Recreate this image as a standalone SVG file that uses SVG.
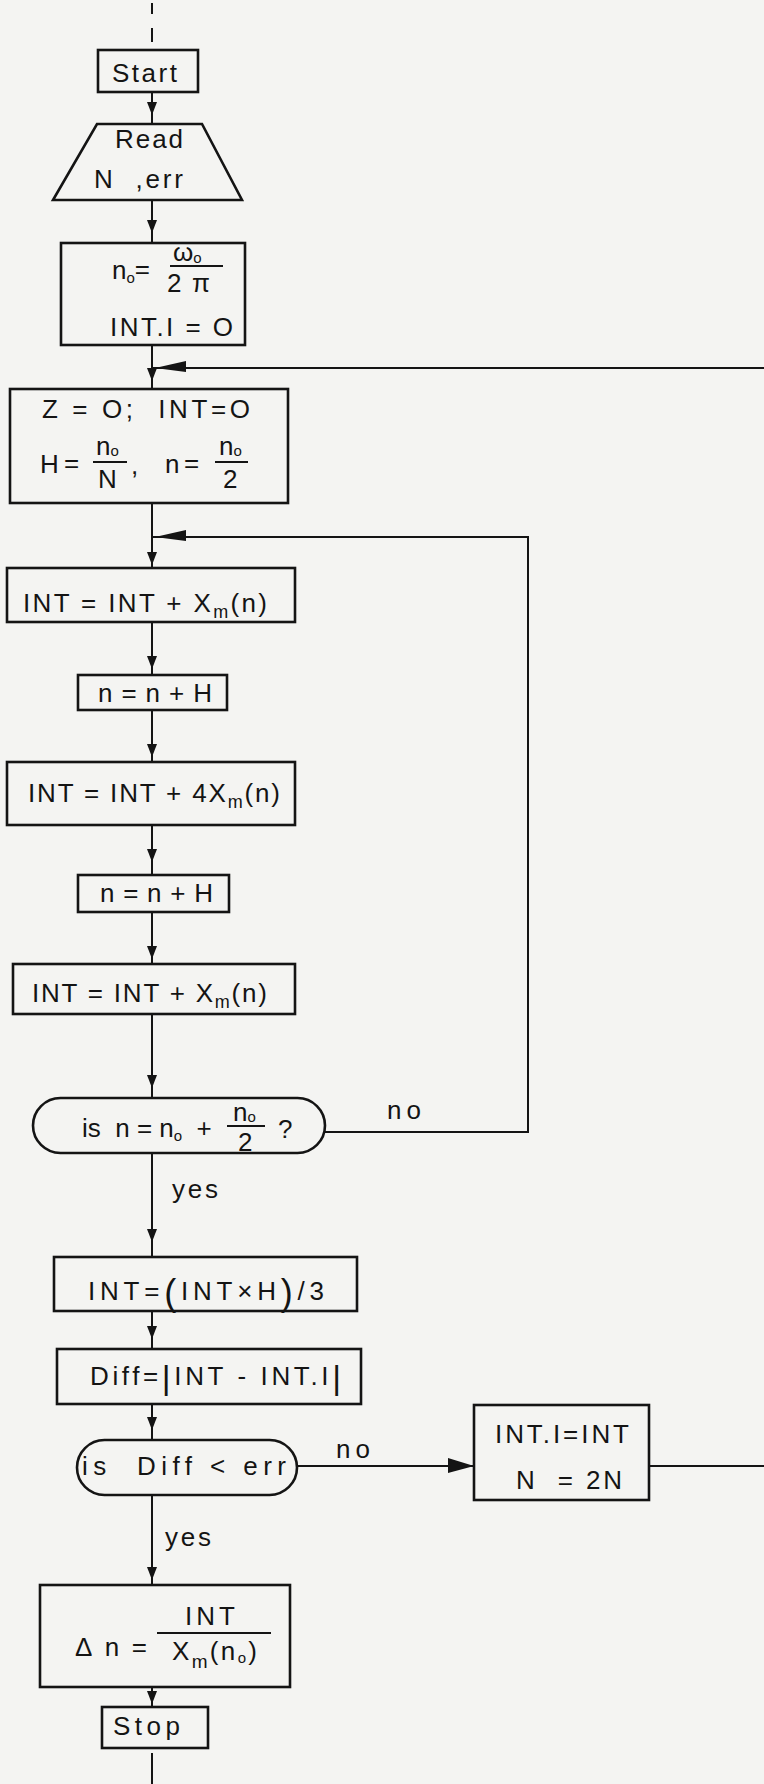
<svg xmlns="http://www.w3.org/2000/svg" xmlns:xlink="http://www.w3.org/1999/xlink" width="764" height="1784" viewBox="0 0 764 1784">
<style>
.b{fill:none;stroke:#141414;stroke-width:2.6}
.c{fill:none;stroke:#141414;stroke-width:2}
.t{font-family:"Liberation Sans",Arial,sans-serif;font-size:26px;fill:#141414}
.s{font-size:15px}
.fl{stroke:#141414;stroke-width:2}
.ah{fill:#141414}
</style>
<defs>
<path id="ad" d="M0,0 L-5,-13 L5,-13 Z"/>
<path id="al" d="M0,0 L31,-7 L31,4 Z"/>
<path id="ar" d="M0,0 L-26,-8 L-26,7 Z"/>
</defs>
<rect width="764" height="1784" fill="#f4f4f2"/>

<g id="connectors">
<line class="c" x1="152" y1="3" x2="152" y2="14"/>
<line class="c" x1="152" y1="28" x2="152" y2="42"/>
<line class="c" x1="152" y1="92" x2="152" y2="124"/>
<line class="c" x1="152" y1="200" x2="152" y2="243"/>
<line class="c" x1="152" y1="345" x2="152" y2="389"/>
<line class="c" x1="152" y1="503" x2="152" y2="568"/>
<line class="c" x1="152" y1="622" x2="152" y2="675"/>
<line class="c" x1="152" y1="710" x2="152" y2="762"/>
<line class="c" x1="152" y1="825" x2="152" y2="875"/>
<line class="c" x1="152" y1="912" x2="152" y2="964"/>
<line class="c" x1="152" y1="1014" x2="152" y2="1098"/>
<line class="c" x1="152" y1="1153" x2="152" y2="1257"/>
<line class="c" x1="152" y1="1311" x2="152" y2="1349"/>
<line class="c" x1="152" y1="1404" x2="152" y2="1440"/>
<line class="c" x1="152" y1="1495" x2="152" y2="1585"/>
<line class="c" x1="152" y1="1687" x2="152" y2="1707"/>
<line class="c" x1="152" y1="1753" x2="152" y2="1784"/>
<polyline class="c" points="764,368 152,368"/>
<polyline class="c" points="325,1132 528,1132 528,537 152,537"/>
<line class="c" x1="297" y1="1466" x2="474" y2="1466"/>
<line class="c" x1="649" y1="1466" x2="764" y2="1466"/>
<g class="ah">
<use xlink:href="#ad" transform="translate(152,115)"/>
<use xlink:href="#ad" transform="translate(152,233)"/>
<use xlink:href="#ad" transform="translate(152,381)"/>
<use xlink:href="#ad" transform="translate(152,565)"/>
<use xlink:href="#ad" transform="translate(152,669)"/>
<use xlink:href="#ad" transform="translate(152,757)"/>
<use xlink:href="#ad" transform="translate(152,862)"/>
<use xlink:href="#ad" transform="translate(152,959)"/>
<use xlink:href="#ad" transform="translate(152,1088)"/>
<use xlink:href="#ad" transform="translate(152,1242)"/>
<use xlink:href="#ad" transform="translate(152,1339)"/>
<use xlink:href="#ad" transform="translate(152,1430)"/>
<use xlink:href="#ad" transform="translate(152,1580)"/>
<use xlink:href="#ad" transform="translate(152,1704)"/>
<use xlink:href="#al" transform="translate(155,368)"/>
<use xlink:href="#al" transform="translate(155,537)"/>
<use xlink:href="#ar" transform="translate(474,1466)"/>
</g>
<text class="t" x="387" y="1119" textLength="34">no</text>
<text class="t" x="172" y="1198" textLength="46">yes</text>
<text class="t" x="336" y="1458" textLength="34">no</text>
<text class="t" x="165" y="1546" textLength="46">yes</text>
</g>

<g id="start">
<rect class="b" x="98" y="50" width="100" height="42"/>
<text class="t" x="112" y="82" font-size="27" textLength="65">Start</text>
</g>

<g id="read">
<polygon class="b" points="97,124 202,124 242,200 53,200"/>
<text class="t" x="115" y="148" textLength="68">Read</text>
<text class="t" x="94" y="188" textLength="89" xml:space="preserve">N  ,err</text>
</g>

<g id="init1">
<rect class="b" x="61" y="243" width="184" height="102"/>
<text class="t" x="112" y="279" font-size="24">n<tspan class="s" dy="4">o</tspan><tspan dy="-5">=</tspan></text>
<text class="t" x="173" y="261" font-size="24">ω<tspan class="s" dy="2">o</tspan></text>
<line class="fl" x1="170" y1="266" x2="223" y2="266"/>
<text class="t" x="167" y="292" textLength="43">2 π</text>
<text class="t" x="110" y="336" textLength="123">INT.I = O</text>
</g>

<g id="init2">
<rect class="b" x="10" y="389" width="278" height="114"/>
<text class="t" x="42" y="418" textLength="208" xml:space="preserve">Z = O;  INT=O</text>
<text class="t" x="40" y="473">H</text>
<text class="t" x="64" y="472">=</text>
<text class="t" x="96" y="455" font-size="23">n<tspan class="s" dy="1">o</tspan></text>
<line class="fl" x1="93" y1="462" x2="127" y2="462"/>
<text class="t" x="98" y="488">N</text>
<text class="t" x="131" y="474">,</text>
<text class="t" x="165" y="473">n</text>
<text class="t" x="184" y="472">=</text>
<text class="t" x="219" y="455" font-size="23">n<tspan class="s" dy="1">o</tspan></text>
<line class="fl" x1="215" y1="462" x2="248" y2="462"/>
<text class="t" x="223" y="488">2</text>
</g>

<g id="sum1">
<rect class="b" x="7" y="568" width="288" height="54"/>
<text class="t" x="23" y="612" textLength="244" xml:space="preserve">INT = INT + X<tspan font-size="18" dy="6">m</tspan><tspan dy="-6">(n)</tspan></text>
</g>

<g id="step1">
<rect class="b" x="78" y="675" width="149" height="35"/>
<text class="t" x="98" y="702" textLength="114">n = n + H</text>
</g>

<g id="sum2">
<rect class="b" x="7" y="762" width="288" height="63"/>
<text class="t" x="28" y="802" textLength="252" xml:space="preserve">INT = INT + 4X<tspan font-size="18" dy="6">m</tspan><tspan dy="-6">(n)</tspan></text>
</g>

<g id="step2">
<rect class="b" x="78" y="875" width="151" height="37"/>
<text class="t" x="100" y="902" textLength="113">n = n + H</text>
</g>

<g id="sum3">
<rect class="b" x="13" y="964" width="282" height="50"/>
<text class="t" x="32" y="1002" textLength="235" xml:space="preserve">INT = INT + X<tspan font-size="18" dy="6">m</tspan><tspan dy="-6">(n)</tspan></text>
</g>

<g id="test1">
<rect class="b" x="33" y="1098" width="292" height="55" rx="27.5"/>
<text class="t" x="82" y="1137" xml:space="preserve">is  n = n<tspan class="s" dy="4">o</tspan><tspan dy="-4">  + </tspan></text>
<text class="t" x="233" y="1121" font-size="23">n<tspan class="s" dy="1">o</tspan></text>
<line class="fl" x1="227" y1="1126" x2="265" y2="1126"/>
<text class="t" x="238" y="1151" font-size="23">2</text>
<text class="t" x="278" y="1138">?</text>
</g>

<g id="scale">
<rect class="b" x="54" y="1257" width="303" height="54"/>
<text class="t" x="88" y="1300" textLength="236">INT=<tspan font-size="36" dy="5">(</tspan><tspan dy="-5">INT×H</tspan><tspan font-size="36" dy="5">)</tspan><tspan dy="-5">/3</tspan></text>
</g>

<g id="diff">
<rect class="b" x="57" y="1349" width="304" height="55"/>
<text class="t" x="90" y="1385" textLength="251">Diff=<tspan font-size="34" dy="4">|</tspan><tspan dy="-4">INT - INT.I</tspan><tspan font-size="34" dy="4">|</tspan></text>
</g>

<g id="test2">
<rect class="b" x="77" y="1440" width="220" height="55" rx="27.5"/>
<text class="t" x="82" y="1475" font-size="27" textLength="204" xml:space="preserve">is  Diff &lt; err</text>
</g>

<g id="update">
<rect class="b" x="474" y="1405" width="175" height="95"/>
<text class="t" x="495" y="1443" textLength="134">INT.I=INT</text>
<text class="t" x="516" y="1489" textLength="106" xml:space="preserve">N  = 2N</text>
</g>

<g id="result">
<rect class="b" x="40" y="1585" width="250" height="102"/>
<text class="t" x="75" y="1656" font-size="27" textLength="72">Δn=</text>
<text class="t" x="185" y="1625" textLength="50">INT</text>
<line class="fl" x1="157" y1="1633" x2="271" y2="1633"/>
<text class="t" x="172" y="1660" textLength="85">X<tspan font-size="19" dy="8">m</tspan><tspan dy="-8">(n</tspan><tspan class="s" dy="3">o</tspan><tspan dy="-3">)</tspan></text>
</g>

<g id="stop">
<rect class="b" x="102" y="1707" width="106" height="41"/>
<text class="t" x="113" y="1735" font-size="27" textLength="67">Stop</text>
</g>
</svg>
